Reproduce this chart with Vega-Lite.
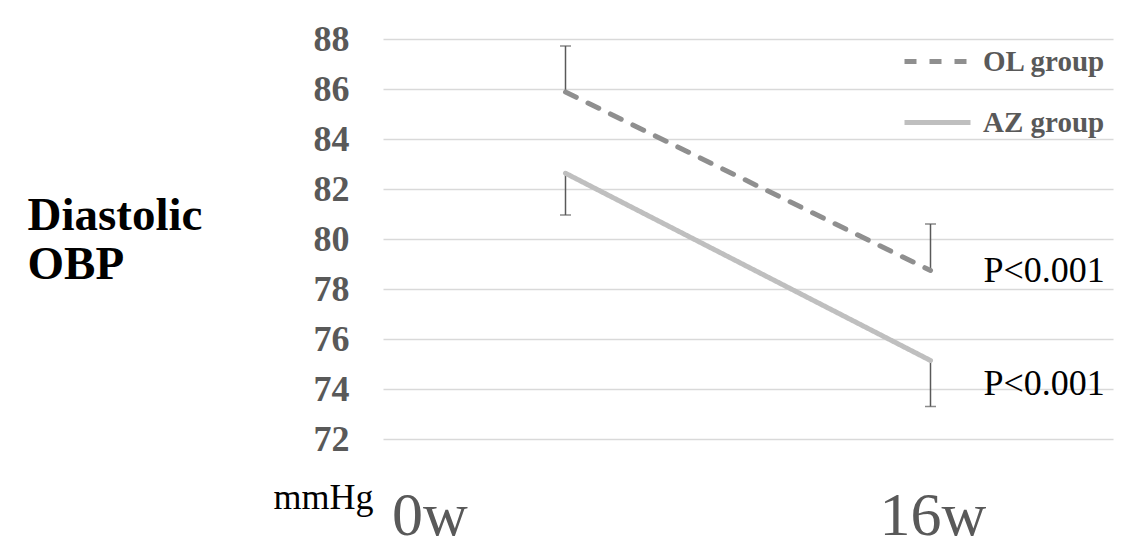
{
  "$schema": "https://vega.github.io/schema/vega-lite/v6.json",
  "width": 730,
  "height": 400,
  "autosize": "none",
  "padding": {"left": 383, "top": 39, "right": 29, "bottom": 107},
  "background": "white",
  "config": {"view": {"stroke": null}, "font": "Liberation Serif"},
  "datasets": {
    "means": [
      {"group": "OL group", "time": "0w", "value": 85.88},
      {"group": "OL group", "time": "16w", "value": 78.74},
      {"group": "AZ group", "time": "0w", "value": 82.63},
      {"group": "AZ group", "time": "16w", "value": 75.14}
    ],
    "errors": [
      {"group": "OL group", "time": "0w", "mean": 85.88, "end": 87.72},
      {"group": "OL group", "time": "16w", "mean": 78.74, "end": 80.6},
      {"group": "AZ group", "time": "0w", "mean": 82.63, "end": 80.96},
      {"group": "AZ group", "time": "16w", "mean": 75.14, "end": 73.3}
    ],
    "pvalues": [
      {"time": "16w", "y": 78.28, "label": "P<0.001"},
      {"time": "16w", "y": 73.76, "label": "P<0.001"}
    ]
  },
  "layer": [
    {
      "data": {"name": "errors"},
      "mark": {"type": "rule", "color": "#595959", "strokeWidth": 1.5},
      "encoding": {
        "x": {"field": "time", "type": "nominal", "scale": {"type": "point", "padding": 0.5, "domain": ["0w", "16w"]}},
        "y": {"field": "mean", "type": "quantitative"},
        "y2": {"field": "end"}
      }
    },
    {
      "data": {"name": "errors"},
      "mark": {"type": "tick", "color": "#595959", "thickness": 1.5, "size": 11, "orient": "horizontal"},
      "encoding": {
        "x": {"field": "time", "type": "nominal"},
        "y": {"field": "end", "type": "quantitative"}
      }
    },
    {
      "data": {"name": "means"},
      "mark": {"type": "line", "strokeWidth": 5, "strokeCap": "round"},
      "encoding": {
        "x": {
          "field": "time", "type": "nominal",
          "axis": {
            "title": "mmHg", "titleX": -110, "titleY": 69, "titleAlign": "left", "titleBaseline": "alphabetic",
            "titleFontSize": 36, "titleFontWeight": "normal", "titleColor": "black", "titleFont": "Liberation Serif",
            "labelFontSize": 62, "labelFont": "Liberation Serif", "labelColor": "#595959", "labelBaseline": "alphabetic",
            "labelAlign": "center",
            "labelPadding": 95, "ticks": false, "domain": false, "grid": false, "labelAngle": 0,
            "labelFlush": false, "labelOverlap": false,
            "labelOffset": {"condition": {"test": "datum.value === '0w'", "value": -136}, "value": 2}
          }
        },
        "y": {
          "field": "value", "type": "quantitative",
          "scale": {"domain": [72, 88], "nice": false, "zero": false},
          "axis": {
            "title": ["Diastolic", "OBP"], "titleAngle": 0, "titleAlign": "left", "titleBaseline": "alphabetic",
            "titleX": -356, "titleY": 190, "titleLineHeight": 49, "titleFontSize": 47, "titleFontWeight": "bold",
            "titleColor": "black", "titleFont": "Liberation Serif",
            "labelFontSize": 36, "labelFontWeight": "bold", "labelColor": "#595959", "labelFont": "Liberation Serif",
            "labelPadding": 34, "ticks": false, "domain": false,
            "values": [72, 74, 76, 78, 80, 82, 84, 86, 88],
            "gridColor": "#d9d9d9", "gridWidth": 1.5
          }
        },
        "color": {
          "field": "group", "type": "nominal",
          "scale": {"domain": ["OL group", "AZ group"], "range": ["#8f8f8f", "#bfbfbf"]},
          "legend": {
            "title": null, "orient": "none", "legendX": 519, "legendY": -13, "padding": 0,
            "symbolType": "stroke", "symbolSize": 4356, "symbolStrokeWidth": 5,
            "labelFont": "Liberation Serif", "labelFontSize": 29, "labelFontWeight": "bold", "labelColor": "#595959",
            "labelOffset": 10, "rowPadding": 10
          }
        },
        "strokeDash": {
          "field": "group", "type": "nominal",
          "scale": {"domain": ["OL group", "AZ group"], "range": [[12, 13], [1, 0]]},
          "legend": {
            "title": null, "orient": "none", "legendX": 519, "legendY": -13, "padding": 0,
            "symbolType": "stroke", "symbolSize": 4356, "symbolStrokeWidth": 5,
            "labelFont": "Liberation Serif", "labelFontSize": 29, "labelFontWeight": "bold", "labelColor": "#595959",
            "labelOffset": 10, "rowPadding": 10
          }
        }
      }
    },
    {
      "data": {"name": "pvalues"},
      "mark": {"type": "text", "align": "left", "baseline": "alphabetic", "dx": 53, "fontSize": 36, "color": "black", "font": "Liberation Serif"},
      "encoding": {
        "x": {"field": "time", "type": "nominal"},
        "y": {"field": "y", "type": "quantitative"},
        "text": {"field": "label"}
      }
    }
  ]
}
